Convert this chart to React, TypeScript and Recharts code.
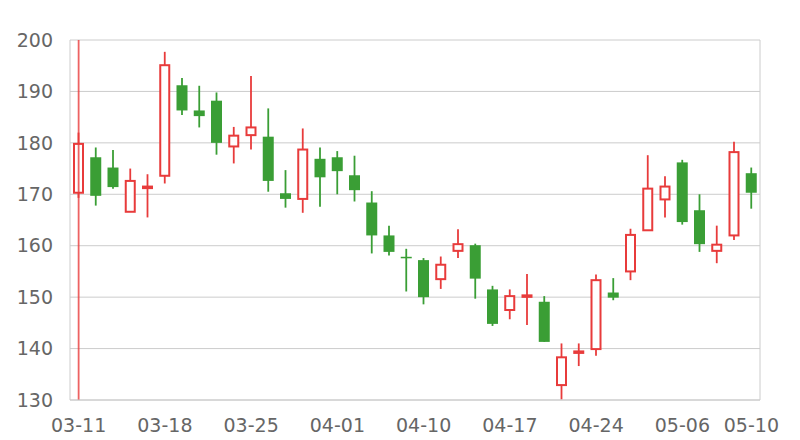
import { BarChart, Bar, XAxis, YAxis, CartesianGrid, ReferenceLine } from "recharts"

const dates = [
  "03-11", "03-12", "03-13", "03-14", "03-15",
  "03-18", "03-19", "03-20", "03-21", "03-22",
  "03-25", "03-26", "03-27", "03-28", "03-29",
  "04-01", "04-02", "04-03", "04-08", "04-09",
  "04-10", "04-11", "04-12", "04-15", "04-16",
  "04-17", "04-18", "04-19", "04-22", "04-23",
  "04-24", "04-25", "04-26", "04-29", "04-30",
  "05-06", "05-07", "05-08", "05-09", "05-10",
]

const opens = [
  170.3, 177.2, 175.2, 166.6, 171.2, 173.6, 191.2, 186.3, 188.2, 179.3,
  181.5, 181.2, 170.2, 169.1, 176.9, 177.2, 173.7, 168.4, 162.0, 157.8,
  157.2, 153.5, 159.0, 160.1, 151.5, 147.5, 150.1, 149.1, 132.9, 139.2,
  139.9, 150.9, 155.0, 163.0, 169.0, 176.2, 166.9, 159.0, 162.0, 174.1,
]
const closes = [
  179.8, 169.7, 171.4, 172.6, 171.5, 195.1, 186.3, 185.2, 180.0, 181.4,
  183.0, 172.6, 169.1, 178.7, 173.3, 174.5, 170.8, 162.0, 158.8, 157.6,
  150.0, 156.3, 160.3, 153.6, 144.8, 150.2, 150.3, 141.3, 138.3, 139.4,
  153.3, 149.9, 162.1, 171.1, 171.5, 164.6, 160.3, 160.2, 178.2, 170.3,
]
const lows = [
  169.3, 167.8, 171.1, 166.6, 165.5, 172.1, 185.4, 183.0, 177.7, 176.0,
  178.7, 170.5, 167.4, 166.4, 167.6, 170.0, 168.6, 158.5, 158.1, 151.1,
  148.6, 151.6, 157.6, 149.7, 144.4, 145.7, 144.6, 141.3, 130.1, 136.6,
  138.6, 149.4, 153.3, 163.0, 165.5, 164.1, 158.8, 156.6, 161.1, 167.2,
]
const highs = [
  182.0, 179.1, 178.6, 175.0, 173.9, 197.7, 192.6, 191.1, 189.8, 183.1,
  193.0, 186.7, 174.7, 182.8, 179.1, 178.4, 177.5, 170.6, 163.9, 159.4,
  157.6, 157.9, 163.2, 160.4, 152.2, 151.5, 154.5, 150.2, 141.0, 141.0,
  154.4, 153.7, 163.3, 177.6, 173.5, 176.7, 170.0, 163.9, 180.2, 175.2,
]

const yTicks = [130, 140, 150, 160, 170, 180, 190, 200]
const xLabels = ["03-11", "03-18", "03-25", "04-01", "04-10", "04-17", "04-24", "05-06", "05-10"]

const UP = "#e83b3b"
const DOWN = "#3a9e35"

const data = dates.map((date, i) => ({
  date,
  open: opens[i],
  close: closes[i],
  low: lows[i],
  high: highs[i],
  range: [lows[i], highs[i]],
}))

// draws wick + body inside the bar's [low, high] box
function Candle(props: any) {
  const { x, y, width, height, payload } = props
  const { open, close, low, high } = payload
  const top = Math.min(y, y + height)
  const h = Math.abs(height)
  const span = high - low
  const toY = (v: number) => (span === 0 ? top : top + ((high - v) / span) * h)
  const cx = x + width / 2
  const up = close >= open
  const color = up ? UP : DOWN
  let bTop = toY(Math.max(open, close))
  let bBot = toY(Math.min(open, close))
  if (bBot - bTop < 1.5) {
    const mid = (bTop + bBot) / 2
    bTop = mid - 0.75
    bBot = mid + 0.75
  }
  if (up) {
    return (
      <g>
        <line x1={cx} x2={cx} y1={top} y2={bTop} stroke={color} strokeWidth={1.8} />
        <line x1={cx} x2={cx} y1={bBot} y2={top + h} stroke={color} strokeWidth={1.8} />
        <rect
          x={x + 1}
          y={bTop}
          width={width - 2}
          height={Math.max(bBot - bTop, 0.5)}
          fill="#fff"
          stroke={color}
          strokeWidth={2}
        />
      </g>
    )
  }
  return (
    <g>
      <line x1={cx} x2={cx} y1={top} y2={top + h} stroke={color} strokeWidth={1.8} />
      <rect x={x} y={bTop} width={width} height={bBot - bTop} fill={color} />
    </g>
  )
}

const tickStyle = { fill: "#666", fontSize: 19, fontFamily: "DejaVu Sans, sans-serif" }

export default function App() {
  return (
    <div style={{ position: "fixed", left: 0, top: 0, background: "#fff" }}>
      <BarChart
        width={800}
        height={440}
        data={data}
        margin={{ top: 40, right: 39, bottom: 0, left: 0 }}
      >
        <CartesianGrid vertical={false} stroke="#ccc" />
        <XAxis
          dataKey="date"
          ticks={xLabels}
          interval={0}
          height={40}
          tickLine={false}
          tickSize={0}
          tickMargin={19}
          axisLine={{ stroke: "#ccc" }}
          tick={tickStyle}
        />
        <YAxis
          domain={[130, 200]}
          ticks={yTicks}
          allowDataOverflow
          width={70}
          tickLine={false}
          tickSize={0}
          tickMargin={17}
          axisLine={{ stroke: "#ccc" }}
          tick={tickStyle}
        />
        <YAxis
          yAxisId="right"
          orientation="right"
          domain={[130, 200]}
          width={1}
          tick={false}
          tickLine={false}
          axisLine={{ stroke: "#ccc" }}
        />
        <ReferenceLine x={dates[0]} stroke={UP} strokeOpacity={0.8} strokeWidth={1.8} />
        <Bar
          dataKey="range"
          barSize={11}
          shape={<Candle />}
          isAnimationActive={false}
        />
      </BarChart>
    </div>
  )
}
